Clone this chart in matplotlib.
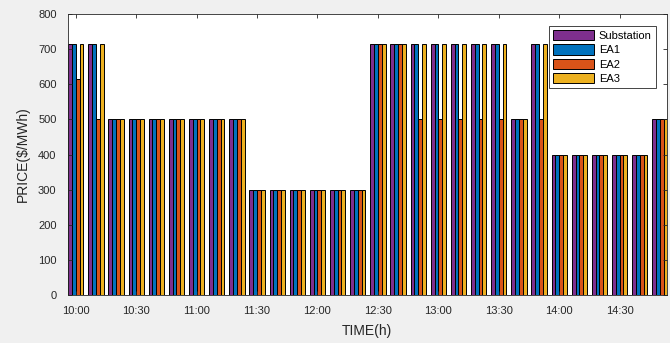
import numpy as np
import matplotlib.pyplot as plt

plt.rcParams["font.family"] = ["Liberation Sans", "DejaVu Sans"]
plt.rcParams["font.size"] = 8

# 10-minute steps from 10:00 to 14:50
times = ["10:00", "10:10", "10:20", "10:30", "10:40", "10:50", "11:00", "11:10", "11:20",
         "11:30", "11:40", "11:50", "12:00", "12:10", "12:20", "12:30", "12:40", "12:50",
         "13:00", "13:10", "13:20", "13:30", "13:40", "13:50", "14:00", "14:10", "14:20",
         "14:30", "14:40", "14:50"]
tick_labels = ["10:00", "10:30", "11:00", "11:30", "12:00", "12:30", "13:00", "13:30", "14:00", "14:30"]

substation = [714, 714, 500, 500, 500, 500, 500, 500, 500, 300, 300, 300, 300, 300, 300,
              714, 714, 714, 714, 714, 714, 714, 500, 714, 400, 400, 400, 400, 400, 500]
ea1 = [714, 714, 500, 500, 500, 500, 500, 500, 500, 300, 300, 300, 300, 300, 300,
       714, 714, 714, 714, 714, 714, 714, 500, 714, 400, 400, 400, 400, 400, 500]
ea2 = [615, 500, 500, 500, 500, 500, 500, 500, 500, 300, 300, 300, 300, 300, 300,
       714, 714, 500, 500, 500, 500, 500, 500, 500, 400, 400, 400, 400, 400, 500]
ea3 = [714, 714, 500, 500, 500, 500, 500, 500, 500, 300, 300, 300, 300, 300, 300,
       714, 714, 714, 714, 714, 714, 714, 500, 714, 400, 400, 400, 400, 400, 500]

series = [substation, ea1, ea2, ea3]
names = ["Substation", "EA1", "EA2", "EA3"]
colors = ["#7E2F8E", "#0072BD", "#D95319", "#EDB120"]

fig = plt.figure(figsize=(6.7, 3.43), dpi=100, facecolor="#F0F0F0")
ax = fig.add_axes([0.101, 0.14, 0.8945, 0.819])

x = np.arange(len(times))
w = 0.19
for i, (vals, name, c) in enumerate(zip(series, names, colors)):
    ax.bar(x + (i - 1.5) * w, vals, w, color=c, edgecolor="black", linewidth=0.7, label=name)

ax.set_xlim(-0.4, 29.35)
ax.set_ylim(0, 800)
ax.set_yticks(range(0, 801, 100))
ax.set_xticks(x[::3])
ax.set_xticklabels(tick_labels)
ax.tick_params(direction="in", top=True, right=True, length=3, width=0.6, colors="#262626", labelcolor="#262626")
ax.tick_params(axis="y", pad=8)
ax.tick_params(axis="x", pad=8)
for s in ax.spines.values():
    s.set_color("#262626")
    s.set_linewidth(0.6)

ax.set_xlabel("TIME(h)", color="#262626", fontsize=10, labelpad=6)
ax.set_ylabel(r"PRICE(\$/MWh)", color="#262626", fontsize=10, labelpad=6)

leg = ax.legend(loc="upper right", bbox_to_anchor=(0.981, 0.957), fontsize=8, fancybox=False,
                framealpha=1, edgecolor="#262626", handlelength=3.75, handleheight=1.05,
                borderpad=0.35, labelspacing=0.3, handletextpad=0.4, borderaxespad=0)
leg.get_frame().set_linewidth(0.6)
for h in leg.legend_handles:
    h.set_edgecolor("black")

fig.savefig("out.png", dpi=100, facecolor=fig.get_facecolor())
